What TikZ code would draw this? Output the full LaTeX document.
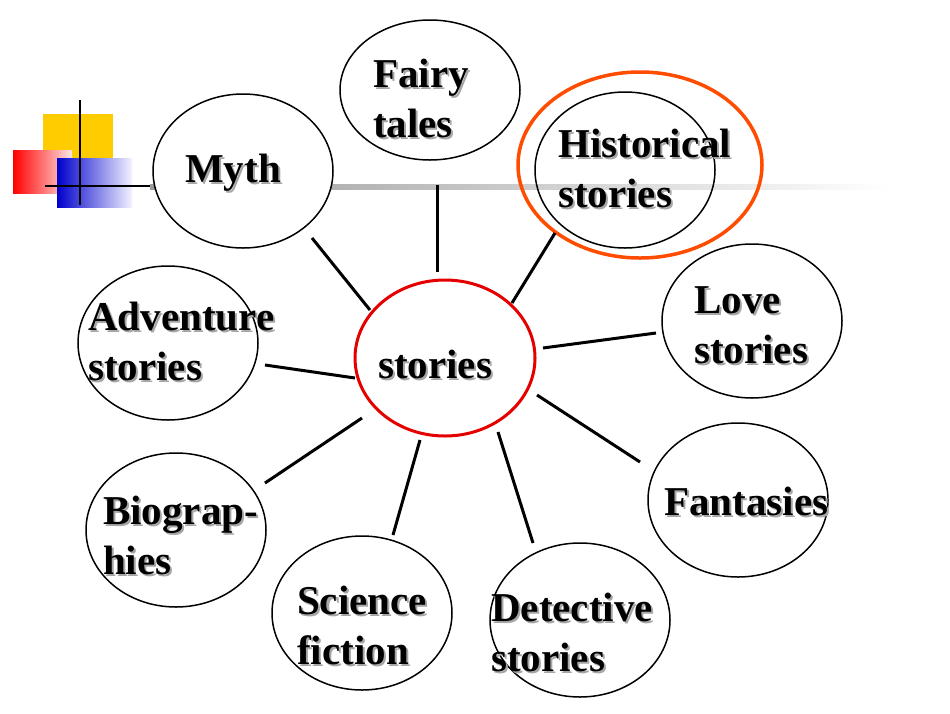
\documentclass[tikz,border=0pt]{standalone}
\usepackage{fontspec}
\setmainfont{Liberation Serif}
\definecolor{gold}{RGB}{255,204,0}
\begin{document}
\begin{tikzpicture}[x=1pt,y=-1pt,
  bub/.style={draw=black,line width=1.5pt},
  lnk/.style={line width=3pt},
  lbl/.style={anchor=west,align=left,inner sep=0pt,font=\fontsize{41}{50}\selectfont\bfseries}]
\useasboundingbox (0,0) rectangle (950,713);
% decoration
\fill[gold] (43,114) rectangle (113,170);
\fill[left color=red,right color=red!10] (13,150) rectangle (72,193);
\fill[left color=blue!80!black,right color=blue!5] (57,158) rectangle (132,207);
\fill[left color=gray!80,right color=white] (150,184) rectangle (890,189);
\draw[line width=2pt] (45,186) -- (150,186);
\draw[line width=2pt] (80,100) -- (80,205);
% bubbles
\draw[bub,fill=white] (430,90) ellipse (90 and 70);
\draw[bub,fill=white] (243,171) ellipse (90 and 77);
\draw[bub] (625,170) ellipse (90 and 78);
\draw[draw=orange!60!red,line width=3.5pt] (640,165) ellipse (122 and 93);
\draw[bub] (752,321) ellipse (90 and 77);
\draw[bub] (168,343) ellipse (90 and 77);
\draw[bub] (738,500) ellipse (90 and 77);
\draw[bub] (176,530) ellipse (90 and 77);
\draw[bub] (362,613) ellipse (90 and 77);
\draw[bub] (580,620) ellipse (90 and 77);
\draw[draw=red!90!black,line width=3pt] (445,358) ellipse (90 and 78);
% labels with shadow
\foreach \x/\y/\t/\n in {373/98/{Fairy\\tales}/fa,185/173/{Myth}/my,558/168/{Historical\\stories}/hi,
  694/325/{Love\\stories}/lo,88/341/{Adventure\\stories}/ad,378/364/{stories}/st,
  664/501/{Fantasies}/fn,103/535/{Biograp-\\hies}/bi,297/625/{Science\\fiction}/sc,491/632/{Detective\\stories}/de}{
  \node[lbl,text=gray!70] (\n s) at (\x+2,\y+2) {\t};
  \node[lbl] (\n) at (\x,\y) {\t};
}
% links
\coordinate (a1) at (437,185); \coordinate (a2) at (437,272);
\coordinate (b1) at (312,238); \coordinate (b2) at (370,310);
\coordinate (c1) at (555,233); \coordinate (c2) at (512,303);
\coordinate (d1) at (543,348); \coordinate (d2) at (656,333);
\coordinate (e1) at (265,365); \coordinate (e2) at (355,378);
\coordinate (f1) at (537,395); \coordinate (f2) at (640,462);
\coordinate (g1) at (265,483); \coordinate (g2) at (362,418);
\coordinate (h1) at (393,535); \coordinate (h2) at (420,440);
\coordinate (i1) at (498,432); \coordinate (i2) at (533,543);
\foreach \s/\e in {a1/a2,b1/b2,c1/c2,d1/d2,e1/e2,f1/f2,g1/g2,h1/h2,i1/i2}
  \draw[lnk] (\s) -- (\e);
\end{tikzpicture}
\end{document}
